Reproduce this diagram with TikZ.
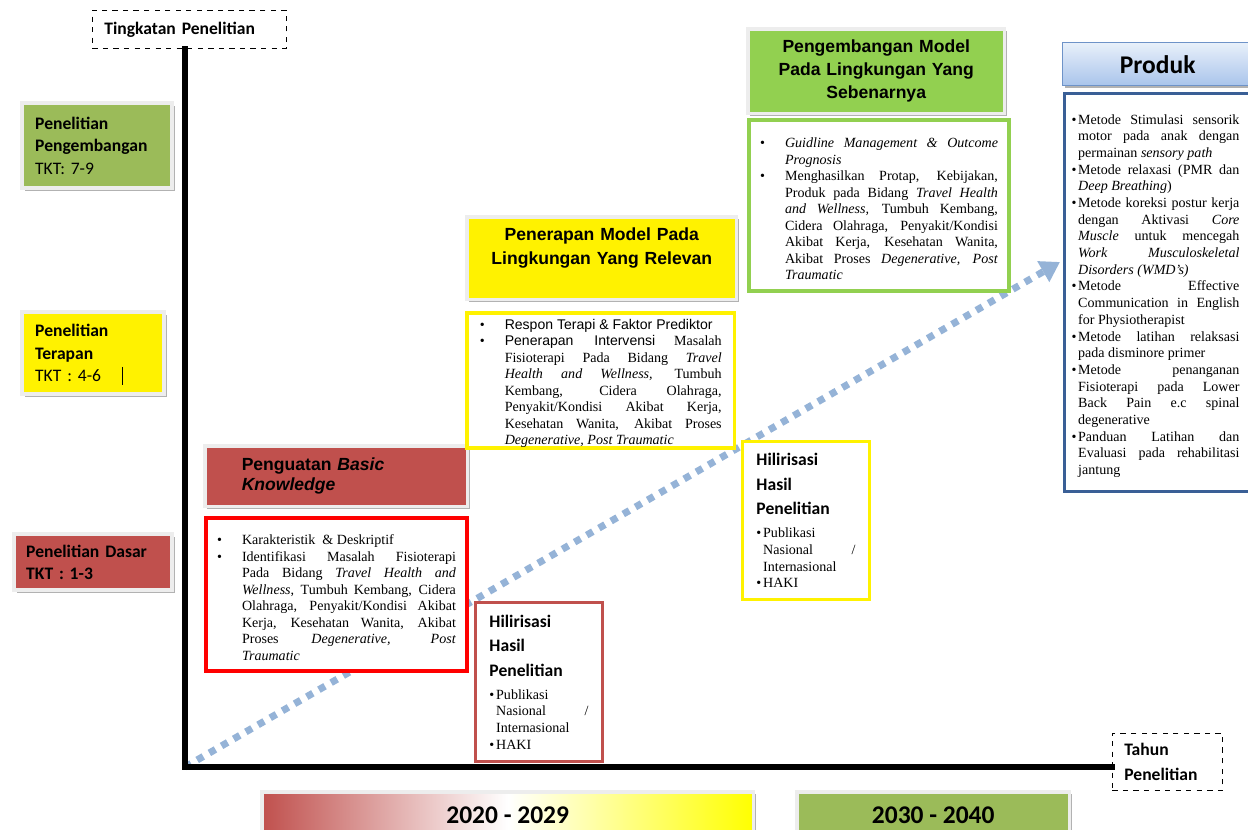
\documentclass[tikz,border=0pt]{standalone}
\usepackage{fontspec}
\setmainfont{Liberation Serif}
\newfontfamily\calibri{Carlito}
\newfontfamily\arial{Liberation Sans}
\usepackage{enumitem}
\usepackage{tikz}
\usetikzlibrary{shapes,arrows,positioning,calc,shadows,arrows.meta}

\definecolor{tktred}{HTML}{C0504D}
\definecolor{tktgreen}{HTML}{9BBB59}
\definecolor{tktlime}{HTML}{92D050}
\definecolor{dotblue}{HTML}{95B3D7}
\definecolor{prodnavy}{HTML}{3A5F96}
\definecolor{prodtop}{HTML}{E8F0FA}
\definecolor{prodbot}{HTML}{A9C4EB}
\definecolor{prodline}{HTML}{6E93C8}

\setlist[itemize]{label=\textbullet, leftmargin=0.5cm, labelwidth=0.2cm, labelsep=0.3cm, align=left,
  topsep=0pt, partopsep=0pt, itemsep=0pt, parsep=0pt}
\newcommand{\bodysize}{\fontsize{8}{9.4}\selectfont}
\newcommand{\prodsize}{\fontsize{8}{9.5}\selectfont}
\hbadness=10000

\begin{document}
\begin{tikzpicture}[x=0.02cm, y=-0.02cm, >=latex, thick,
    boxshadow/.style={drop shadow={shadow xshift=1.5pt, shadow yshift=-1.5pt, fill=black!30, opacity=1}},
    lvlbox/.style={anchor=north west, align=left, inner ysep=0pt, draw=black!7, line width=2.5pt, boxshadow,
      font=\calibri\bfseries\fontsize{10}{12.75}\selectfont},
    headbox/.style={anchor=north west, inner ysep=0pt, draw=black!7, line width=2pt, boxshadow,
      font=\arial\bfseries\fontsize{10}{13}\selectfont},
    bodybox/.style={anchor=north west, fill=white, align=justify, inner ysep=0pt, font=\bodysize},
    hilirbox/.style={bodybox, draw, inner xsep=0.28cm, text width=1.98cm, line width=1.7pt, font=\prodsize},
    dashbox/.style={anchor=north west, draw, dashed, thin, align=left, inner xsep=0.24cm,
      font=\calibri\bfseries\fontsize{10}{14.7}\selectfont},
    yearbar/.style={anchor=north west, minimum height=0.92cm, draw=black!7, line width=2pt, boxshadow,
      font=\calibri\bfseries\fontsize{14.5}{16}\selectfont},
    axisline/.style={line width=3.4pt, line cap=rect},
    dotarrow/.style={draw=dotblue, line width=4pt, dash pattern=on 4pt off 4pt, -{Triangle[width=13pt,length=11pt]}}]

    \useasboundingbox (0,0) rectangle (1248,830);
    \coordinate (origin) at (185,767);
    \coordinate (arrowtip) at (1060,262);
    \draw[dotarrow] (origin) -- (arrowtip);

    % sumbu
    \node[dashbox, text width=3.4cm, minimum height=0.76cm] (tingkat) at (92,10) {Tingkatan Penelitian};
    \node[dashbox, text width=1.72cm, minimum height=1.14cm] (tahun) at (1112,733) {Tahun\\Penelitian};
    \draw[axisline] (origin |- tingkat.south) -- (origin) -- (origin -| tahun.west);

    % tingkat TKT
    \node[lvlbox, fill=tktgreen, inner xsep=0.26cm, text width=2.48cm, minimum height=1.7cm] (lvlDev) at (20,101)
      {Penelitian\\Pengembangan\\{\mdseries TKT: 7-9}};
    \node[lvlbox, fill=yellow, inner xsep=0.26cm, text width=2.32cm, minimum height=1.64cm] (lvlApp) at (20,310)
      {Penelitian\\Terapan\\{\mdseries TKT : 4-6}};
    \draw[thin] (122,367) -- (122,385);
    \node[lvlbox, fill=tktred, inner xsep=0.24cm, text width=2.68cm, minimum height=1.12cm,
      font=\calibri\bfseries\fontsize{10}{12.5}\selectfont] (lvlBase) at (12,532)
      {Penelitian Dasar\\TKT : 1-3};

    % 2020 - 2029
    \node[headbox, fill=tktred, align=left, inner xsep=0.74cm, text width=3.78cm, minimum height=1.22cm,
      font=\arial\bfseries\fontsize{10}{11.3}\selectfont] (basicHead) at (203,444)
      {Penguatan \textit{Basic}\\\textit{Knowledge}};
    \node[bodybox, draw=red, line width=2.3pt, inner xsep=0.22cm, text width=4.78cm, minimum height=3.06cm] (basicBody) at (204,516) {%
      \begin{itemize}
      \item Karakteristik~ \& Deskriptif
      \item Identifikasi Masalah Fisioterapi\linebreak Pada Bidang \textit{Travel Health and}\linebreak
        \textit{Wellness}, Tumbuh Kembang, Cidera\linebreak Olahraga, Penyakit/Kondisi Akibat\linebreak
        Kerja, Kesehatan Wanita, Akibat\linebreak Proses \textit{Degenerative, Post}\linebreak \textit{Traumatic}
      \end{itemize}};

    \node[headbox, fill=yellow, align=center, inner xsep=0.2cm, text width=5cm, minimum height=1.66cm,
      font=\arial\bfseries\fontsize{10}{13.6}\selectfont] (relevanHead) at (465,215)
      {Penerapan Model Pada\\Lingkungan Yang Relevan\\\mbox{}};
    \node[bodybox, draw=yellow, line width=2pt, inner xsep=0.26cm, text width=4.84cm, minimum height=2.52cm] (relevanBody) at (465,311) {%
      \begin{itemize}
      \item {\arial Respon Terapi \& Faktor Prediktor}
      \item {\arial Penerapan Intervensi} Masalah\linebreak Fisioterapi Pada Bidang \textit{Travel}\linebreak
        \textit{Health and Wellness,} Tumbuh\linebreak Kembang, Cidera Olahraga,\linebreak
        Penyakit/Kondisi Akibat Kerja,\linebreak Kesehatan Wanita, Akibat Proses\linebreak
        \textit{Degenerative, Post Traumatic}
      \end{itemize}};

    \node[hilirbox, draw=tktred, minimum height=3.18cm] (hilirA) at (474,601) {%
      {\calibri\bfseries\fontsize{10}{14}\selectfont Hilirisasi\\Hasil\\Penelitian\par}
      \begin{itemize}[leftmargin=3.8pt, labelwidth=3.8pt, labelsep=0pt, topsep=3.5pt]
      \item Publikasi\linebreak Nasional /\linebreak Internasional
      \item HAKI
      \end{itemize}};

    % 2030 - 2040
    \node[headbox, fill=tktlime, align=center, inner xsep=0.2cm, text width=4.74cm, minimum height=1.7cm] (sebenarnyaHead) at (746,27)
      {Pengembangan Model\\Pada Lingkungan Yang\\Sebenarnya};
    \node[bodybox, draw=tktlime, line width=2.3pt, inner xsep=0.22cm, text width=4.76cm, minimum height=3.42cm] (sebenarnyaBody) at (747,118) {%
      \begin{itemize}
      \item \textit{Guidline Management \& Outcome}\linebreak \textit{Prognosis}
      \item Menghasilkan Protap, Kebijakan,\linebreak Produk pada Bidang \textit{Travel Health}\linebreak
        \textit{and Wellness,} Tumbuh Kembang,\linebreak Cidera Olahraga, Penyakit/Kondisi\linebreak
        Akibat Kerja, Kesehatan Wanita,\linebreak Akibat Proses \textit{Degenerative, Post}\linebreak \textit{Traumatic}
      \end{itemize}};

    \node[hilirbox, draw=yellow, minimum height=3.16cm] (hilirB) at (741,440) {%
      {\calibri\bfseries\fontsize{10}{14}\selectfont Hilirisasi\\Hasil\\Penelitian\par}
      \begin{itemize}[leftmargin=3.8pt, labelwidth=3.8pt, labelsep=0pt, topsep=3.5pt]
      \item Publikasi\linebreak Nasional /\linebreak Internasional
      \item HAKI
      \end{itemize}};

    % produk
    \node[anchor=north west, draw=prodline, line width=0.8pt, top color=prodtop, bottom color=prodbot,
      minimum width=3.8cm, minimum height=0.86cm, boxshadow,
      font=\calibri\bfseries\fontsize{14.5}{16}\selectfont] (produkHead) at (1062,42) {Produk};
    \node[bodybox, draw=prodnavy, line width=1.7pt, inner xsep=0.14cm, text width=3.6cm, minimum height=7.96cm,
      font=\prodsize] (produkBody) at (1063,92) {%
      \begin{itemize}[leftmargin=3.8pt, labelwidth=3.8pt, labelsep=0pt, rightmargin=0.24cm]
      \item Metode Stimulasi sensorik\linebreak motor pada anak dengan\linebreak permainan \textit{sensory path}
      \item Metode relaxasi (PMR dan\linebreak \textit{Deep Breathing})
      \item Metode koreksi postur kerja\linebreak dengan Aktivasi \textit{Core}\linebreak
        \textit{Muscle} untuk mencegah\linebreak \textit{Work Musculoskeletal}\linebreak \textit{Disorders (WMD's)}
      \item Metode Effective\linebreak Communication in English\linebreak for Physiotherapist
      \item Metode latihan relaksasi\linebreak pada disminore primer
      \item Metode penanganan\linebreak Fisioterapi pada Lower\linebreak Back Pain e.c spinal\linebreak degenerative
      \item Panduan Latihan dan\linebreak Evaluasi pada rehabilitasi\linebreak jantung
      \end{itemize}};

    % tahun
    \node[yearbar, left color=tktred, right color=yellow, middle color=white, minimum width=9.84cm] (barA) at (260,790) {2020 - 2029};
    \node[yearbar, fill=tktgreen, minimum width=5.46cm] (barB) at (795,790) {2030 - 2040};
\end{tikzpicture}
\end{document}
